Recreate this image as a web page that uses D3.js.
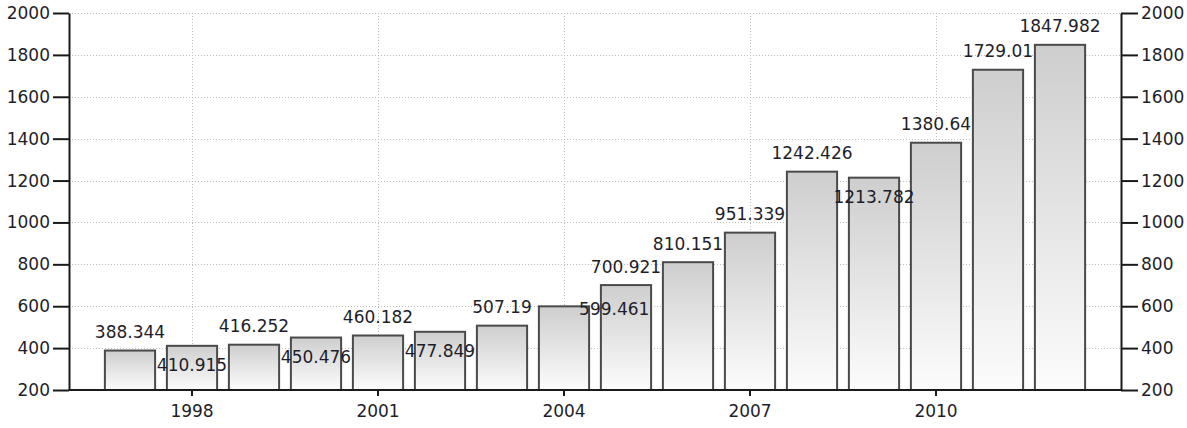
<!DOCTYPE html>
<html>
<head>
<meta charset="utf-8">
<script src="https://cdn.jsdelivr.net/npm/d3@7"></script>
<style>
  html, body { margin: 0; padding: 0; background: #fff; }
  svg { display: block; font-family: "DejaVu Sans", Verdana, sans-serif; }
</style>
</head>
<body>
<svg id="chart" width="1187" height="428"></svg>
<script>
// Annual values, 1997–2012
const years = [1997, 1998, 1999, 2000, 2001, 2002, 2003, 2004, 2005, 2006, 2007, 2008, 2009, 2010, 2011, 2012];
const values = [388.344, 410.915, 416.252, 450.476, 460.182, 477.849, 507.19, 599.461, 700.921, 810.151, 951.339, 1242.426, 1213.782, 1380.64, 1729.01, 1847.982];
const yTicks = [200, 400, 600, 800, 1000, 1200, 1400, 1600, 1800, 2000];
const xTickYears = [1998, 2001, 2004, 2007, 2010];

// Where each value label sits relative to its bar
const labelSide = ["above", "below", "above", "below", "above", "below", "above", "beside",
                   "above", "above", "above", "above", "below", "above", "above", "above"];

const plot = { left: 69, right: 1121, top: 13, bottom: 390 };
const inset = 30;
const textColor = "#1e1e2a";
const fontSize = 17;

const svg = d3.select("#chart");

const x = d3.scaleBand()
  .domain(years)
  .range([plot.left + inset, plot.right - inset])
  .paddingInner(0.19)
  .paddingOuter(0.095);

const y = d3.scaleLinear()
  .domain([200, 2000])
  .range([plot.bottom, plot.top]);

// Bar fill: light grey at the top fading to white at the base
const defs = svg.append("defs");
const grad = defs.append("linearGradient")
  .attr("id", "barFill")
  .attr("x1", 0).attr("y1", 0).attr("x2", 0).attr("y2", 1);
grad.append("stop").attr("offset", "0%").attr("stop-color", "#cecece");
grad.append("stop").attr("offset", "100%").attr("stop-color", "#fcfcfc");

// Dotted grid
const grid = svg.append("g").attr("stroke", "#bdbdbd").attr("stroke-width", 1).attr("stroke-dasharray", "1,2");
grid.selectAll("line.h")
  .data(yTicks)
  .join("line")
  .attr("class", "h")
  .attr("x1", plot.left).attr("x2", plot.right)
  .attr("y1", d => Math.round(y(d)) + 0.5).attr("y2", d => Math.round(y(d)) + 0.5);
grid.selectAll("line.v")
  .data(xTickYears)
  .join("line")
  .attr("class", "v")
  .attr("x1", d => Math.round(x(d) + x.bandwidth() / 2) + 0.5)
  .attr("x2", d => Math.round(x(d) + x.bandwidth() / 2) + 0.5)
  .attr("y1", plot.top).attr("y2", plot.bottom);

// Bars
const data = years.map((yr, i) => ({ year: yr, value: values[i], side: labelSide[i] }));

svg.append("g")
  .selectAll("rect")
  .data(data)
  .join("rect")
  .attr("x", d => x(d.year))
  .attr("width", x.bandwidth())
  .attr("y", d => y(d.value))
  .attr("height", d => y(200) - y(d.value))
  .attr("fill", "url(#barFill)")
  .attr("stroke", "#4a4a4a")
  .attr("stroke-width", 2);

// Axes
function styleAxis(g) {
  g.selectAll("path.domain").attr("stroke", "#1a1a1a").attr("stroke-width", 2);
  g.selectAll(".tick line").attr("stroke", "#1a1a1a").attr("stroke-width", 2);
  g.selectAll(".tick text")
    .attr("fill", textColor)
    .style("font-size", fontSize + "px")
    .style("font-family", "'DejaVu Sans', Verdana, sans-serif");
}

const fmt = d3.format("d");

svg.append("g")
  .attr("transform", `translate(${plot.left},0)`)
  .call(d3.axisLeft(y).tickValues(yTicks).tickFormat(fmt).tickSize(16).tickSizeOuter(0).tickPadding(3))
  .call(styleAxis);

svg.append("g")
  .attr("transform", `translate(${plot.right},0)`)
  .call(d3.axisRight(y).tickValues(yTicks).tickFormat(fmt).tickSize(17).tickSizeOuter(0).tickPadding(3))
  .call(styleAxis);

const xAxis = svg.append("g")
  .attr("transform", `translate(0,${plot.bottom})`)
  .call(d3.axisBottom(x).tickValues(xTickYears).tickSize(6).tickSizeOuter(0).tickPadding(9))
  .call(styleAxis);
xAxis.select("path.domain").remove();

svg.append("line")
  .attr("x1", plot.left).attr("x2", plot.right)
  .attr("y1", plot.bottom).attr("y2", plot.bottom)
  .attr("stroke", "#1a1a1a").attr("stroke-width", 2);

// Value labels
svg.append("g")
  .selectAll("text")
  .data(data)
  .join("text")
  .attr("x", d => x(d.year) + x.bandwidth() / 2 + (d.side === "beside" ? x.bandwidth() : 0))
  .attr("y", d => {
    const top = y(d.value);
    if (d.side === "below") return top + 25;
    if (d.side === "beside") return top + 9;
    return top - 12.5;
  })
  .attr("text-anchor", "middle")
  .attr("fill", textColor)
  .style("font-size", fontSize + "px")
  .text(d => d.value);
</script>
</body>
</html>
